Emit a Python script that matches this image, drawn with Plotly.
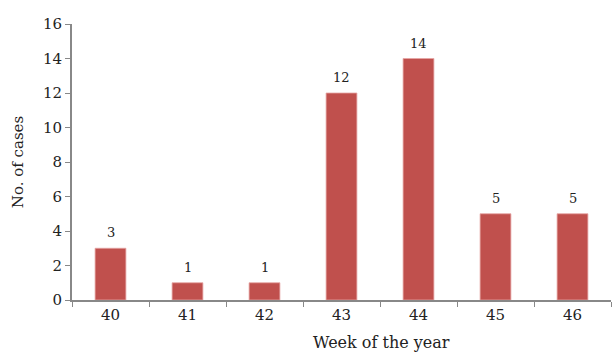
import plotly.graph_objects as go

weeks = ["40", "41", "42", "43", "44", "45", "46"]
cases = [3, 1, 1, 12, 14, 5, 5]
y_ticks = [0, 2, 4, 6, 8, 10, 12, 14, 16]

font_family = "DejaVu Serif"
axis_color = "#888888"

fig = go.Figure(
    go.Bar(
        x=weeks,
        y=cases,
        width=0.4,
        marker=dict(color="#C0504D", line=dict(color="#E6A5A3", width=0.8)),
    )
)

for i, v in enumerate(cases):
    fig.add_annotation(
        x=i, y=v, text=str(v),
        showarrow=False, yanchor="bottom", yshift=6,
        font=dict(family=font_family, size=13, color="#222222"),
    )

fig.update_layout(
    width=612,
    height=352,
    margin=dict(l=72, r=1, t=24, b=52),
    plot_bgcolor="white",
    paper_bgcolor="white",
    showlegend=False,
    font=dict(family=font_family, color="#222222"),
)

fig.update_xaxes(
    type="category",
    categoryorder="array",
    categoryarray=weeks,
    tickson="boundaries",
    showline=True,
    linecolor=axis_color,
    linewidth=2,
    ticks="outside",
    ticklen=5,
    tickcolor=axis_color,
    tickwidth=1,
    tickfont=dict(size=15),
    tickangle=0,
    showgrid=False,
    zeroline=False,
)

fig.update_yaxes(
    range=[0, 16],
    tickvals=y_ticks,
    showline=True,
    linecolor=axis_color,
    linewidth=2,
    ticks="outside",
    ticklen=5,
    tickcolor=axis_color,
    tickwidth=1,
    tickfont=dict(size=15),
    showgrid=False,
    zeroline=False,
    title=dict(text="No. of cases", font=dict(size=15), standoff=16),
)

fig.add_annotation(
    text="Week of the year",
    xref="paper", yref="paper",
    x=0.575, y=0, yshift=-42,
    xanchor="center", yanchor="middle",
    showarrow=False,
    font=dict(size=16, family=font_family),
)

fig.write_html("out.html")
